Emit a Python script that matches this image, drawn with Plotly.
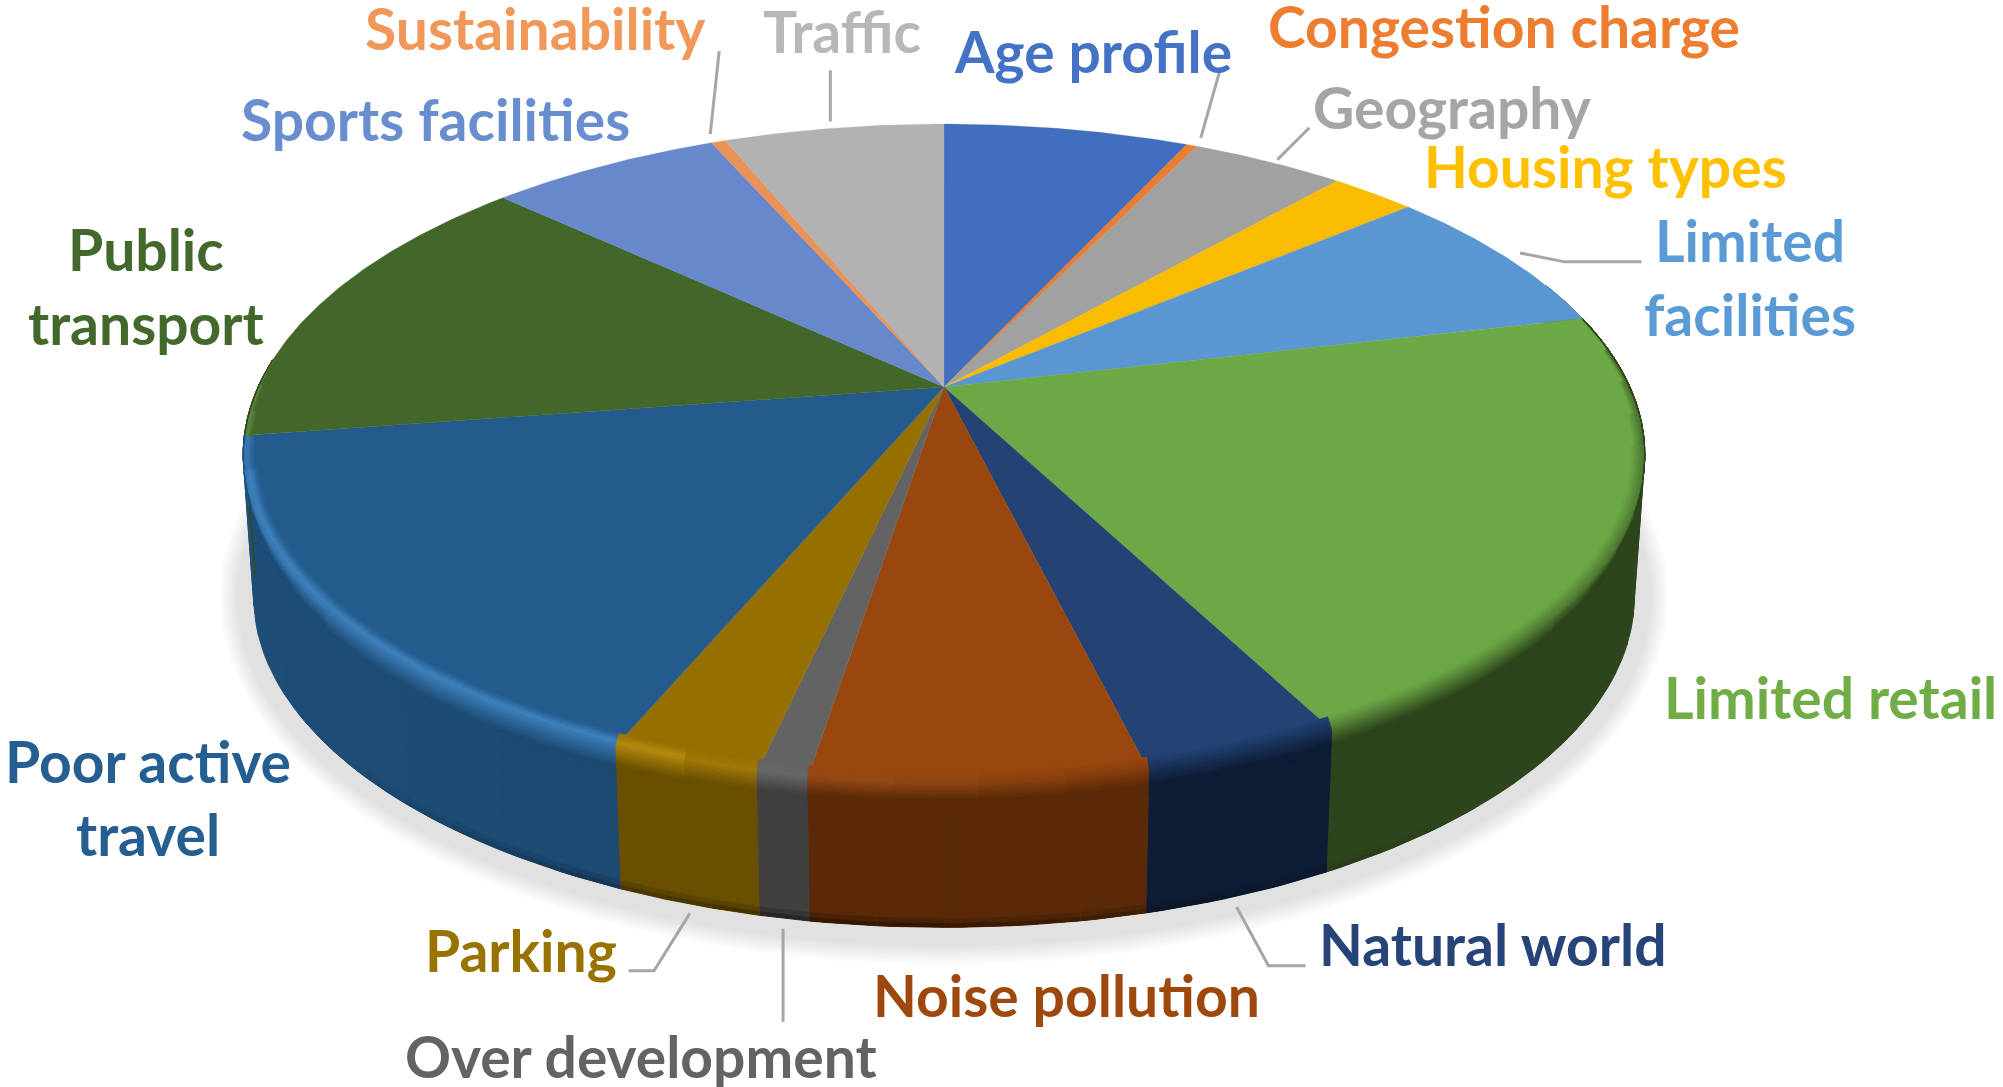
import numpy as np
import plotly.graph_objects as go

categories = ["Age profile", "Congestion charge", "Geography", "Housing types", "Limited facilities",
              "Limited retail", "Natural world", "Noise pollution", "Over development", "Parking",
              "Poor active travel", "Public transport", "Sports facilities", "Sustainability", "Traffic"]
values = [6.9, 0.3, 4.3, 2.4, 7.5, 21.0, 3.82, 6.4, 0.97, 2.85, 16.3, 14.3, 6.5, 0.4, 6.2]
top_colors = ["#416ebd", "#ed7d31", "#a1a1a1", "#f9bc00", "#5a97d2", "#6ca846", "#244274", "#9a470f",
              "#636363", "#956f00", "#245b8d", "#43672a", "#6789cb", "#ea9257", "#b2b2b2"]
wall_colors = ["#27406e", "#8a4a1c", "#5e5e5e", "#8f6d00", "#345a7c", "#2d451c", "#0e1d36", "#5a2a08",
               "#404040", "#6a4f00", "#1c4a72", "#28401a", "#3c5078", "#8a5632", "#686868"]
label_colors = ["#4472c4", "#ed7d31", "#a5a5a5", "#ffc000", "#5b9bd5", "#70ad47", "#264478", "#9e480e",
                "#636363", "#997300", "#255e91", "#43682b", "#698ed0", "#f1975a", "#b7b7b7"]

S = 2003 / 1568
CX, CY, A, B, K = 739 * S, 303 * S, 537 * S, 248 * S, 0.2046
EY, EA, EB = 356 * S, 549 * S, 260 * S
DEPTH, SHRINK = 142.0, 0.985


def hex2rgb(c):
    return np.array([int(c[i:i + 2], 16) for i in (1, 3, 5)], float)


def css(c):
    return "rgb(%d,%d,%d)" % tuple(np.clip(np.round(c), 0, 255))


def clamp(v):
    return max(0.0, min(1.0, v))


def edge(theta, d=0.0):
    t = np.radians(theta)
    u, v = np.sin(t), np.cos(t)
    w = 1 + K * v
    x, y = CX + A * u / w, CY - B * v / w
    xb = CX + SHRINK * (x - CX)
    return x + (xb - x) * d / DEPTH, y + d


def rim_point(theta, d, m):
    """Point d px across the rim: inward along the normal when d<0, down the wall when d>0."""
    if d >= 0:
        return edge(theta, d * clamp(min((m - 102) / 30, (258 - m) / 30)))
    x, y = edge(theta)
    nx, ny = (x - CX) / EA ** 2, (y - EY) / EB ** 2
    n = np.hypot(nx, ny)
    taper = clamp(min((m - 77) / 25, (275 - m) / 20))
    return x + nx / n * d * taper, y + ny / n * d * taper


def poly(fig, x, y, color, lw=0.6):
    fig.add_trace(go.Scatter(x=np.r_[x, x[0]], y=np.r_[y, y[0]], mode="lines", fill="toself", fillcolor=color,
                             line=dict(color=color, width=lw), hoverinfo="skip", showlegend=False))


def highlight(th):
    if th < 165 or th > 275:
        return 0.0
    if th < 195:
        return 0.45 * (th - 165) / 30
    if th < 205:
        return 0.45 + 0.55 * (th - 195) / 10
    return 1.0 if th < 255 else 0.8


fig = go.Figure()

# soft ground shadow
th_all = np.linspace(0, 360, 181)
bx, by = edge(th_all, DEPTH)
bcx, bcy = CX, by.min() / 2 + by.max() / 2
for e in np.linspace(40, 20, 10):
    sx = bcx + (bx - bcx) * (1 + e * 0.85 / 690)
    sy = bcy + (by - bcy) * (1 + e * 0.95 / 332)
    poly(fig, sx, sy, "rgba(0,0,0,0.0115)", lw=0)

frac = np.array(values) / sum(values) * 360
ends = np.cumsum(frac)
starts = ends - frac

# side walls
for s, e, tc, wc in zip(starts, ends, top_colors, wall_colors):
    a, b = max(s, 70), min(e, 262)
    if b <= a:
        continue
    n = max(1, int(np.ceil((b - a) / 5)))
    edges = np.linspace(a, b, n + 1)
    for p, q in zip(edges[:-1], edges[1:]):
        th = np.linspace(p, q, 5)
        xt, yt = edge(th)
        xb, yb = edge(th[::-1], DEPTH)
        m = (p + q) / 2
        col = hex2rgb(wc)
        if m > 205:
            col = col + (hex2rgb(tc) - col) * min(1, (m - 205) / 60) * 0.3
        poly(fig, np.r_[xt, xb], np.r_[yt, yb], css(col), lw=1)
        # darker fringe at the foot of the wall
        st = clamp(1 - abs(m - 185) / 45)
        if st > 0:
            for d0, f in ((DEPTH - 9, 0.8), (DEPTH - 4, 0.55)):
                x0, y0 = edge(th, d0)
                x1, y1 = edge(th[::-1], DEPTH)
                poly(fig, np.r_[x0, x1], np.r_[y0, y1], css(col * (1 - st * (1 - f))), lw=0)

# top faces
for s, e, tc in zip(starts, ends, top_colors):
    th = np.linspace(s, e, max(3, int((e - s) * 2)))
    x, y = edge(th)
    poly(fig, np.r_[CX, x], np.r_[CY, y], tc, lw=0.3)

# rounded rim between top face and wall
rim = np.arange(-14, 22, 2.5)
for s, e, tc, wc in zip(starts, ends, top_colors, wall_colors):
    a, b = max(s, 77), min(e, 275)
    if b <= a:
        continue
    n = max(1, int(np.ceil((b - a) / 6)))
    edges = np.linspace(a, b, n + 1)
    T, W = hex2rgb(tc), hex2rgb(wc)
    for p, q in zip(edges[:-1], edges[1:]):
        m = (p + q) / 2
        h = highlight(m)
        W2 = W + (T - W) * (min(1, (m - 205) / 60) * 0.3 if m > 205 else 0)
        dark = 0.5 + 0.4 * clamp((105 - m) / 25)
        lit = T * 1.2 + 20
        mid = (T + (W2 - T) * dark) * (1 - h) + lit * h
        dpk, dend = -6 * h, 14 + 6 * h
        th = np.linspace(p, q, 4)
        for d0 in rim:
            d1 = d0 + 2.5
            dm = d0 + 1.25
            if dm < dpk:
                c = T + (mid - T) * clamp((dm + 14) / (dpk + 14))
            else:
                c = mid + (W2 - mid) * clamp((dm - dpk) / (dend - dpk))
            x0, y0 = rim_point(th, d0, m)
            x1, y1 = rim_point(th[::-1], d1, m)
            poly(fig, np.r_[x0, x1], np.r_[y0, y1], css(c), lw=0.5)

# leader lines (reference-picture layout)
leaders = [[(955, 55), (940, 108)], [(563, 40), (556, 105)], [(650, 55), (650, 95)], [(1025, 100), (1000, 125)],
           [(1285, 205), (1225, 205), (1190, 198)], [(1022, 756), (993, 756), (968, 710)],
           [(613, 727), (613, 800)], [(492, 760), (512, 760), (540, 715)]]
for pts in leaders:
    fig.add_trace(go.Scatter(x=[p[0] * S for p in pts], y=[p[1] * S for p in pts], mode="lines",
                             line=dict(color="#a6a6a6", width=3), hoverinfo="skip", showlegend=False))

# labels: (line text, category index, centre x, centre y in the shrunk picture)
label_layout = [("Age profile", 0, 856, 40), ("Congestion charge", 1, 1177, 20), ("Geography", 2, 1137, 84),
                ("Housing types", 3, 1257, 130), ("Limited", 4, 1370, 188), ("facilities", 4, 1370, 246),
                ("Limited retail", 5, 1433, 546), ("Natural world", 6, 1169, 739), ("Noise pollution", 7, 835, 779),
                ("Over development", 8, 502, 827), ("Parking", 9, 408, 744), ("Poor active", 10, 116, 596),
                ("travel", 10, 116, 653), ("Public", 11, 114, 195), ("transport", 11, 114, 253),
                ("Sports facilities", 12, 341, 93), ("Sustainability", 13, 419, 22), ("Traffic", 14, 659, 24)]
for txt, i, lx, ly in label_layout:
    fig.add_annotation(x=lx * S, y=ly * S, xref="x", yref="y", text="<b>%s</b>" % txt, showarrow=False,
                       xanchor="center", yanchor="middle",
                       font=dict(family="Lato, Carlito, sans-serif", size=57, color=label_colors[i]))

fig.update_layout(width=2003, height=1087, margin=dict(l=0, r=0, t=0, b=0), paper_bgcolor="white",
                  plot_bgcolor="white", showlegend=False,
                  xaxis=dict(range=[0, 2003], visible=False, fixedrange=True),
                  yaxis=dict(range=[1087, 0], visible=False, fixedrange=True))
fig.write_html("out.html", config={"displayModeBar": False},
               post_script="document.body.style.margin='0';document.documentElement.style.overflow='hidden';"
                           "var st=document.createElement('style');st.textContent='text{font-variant-ligatures:none}';"
                           "document.head.appendChild(st);")
